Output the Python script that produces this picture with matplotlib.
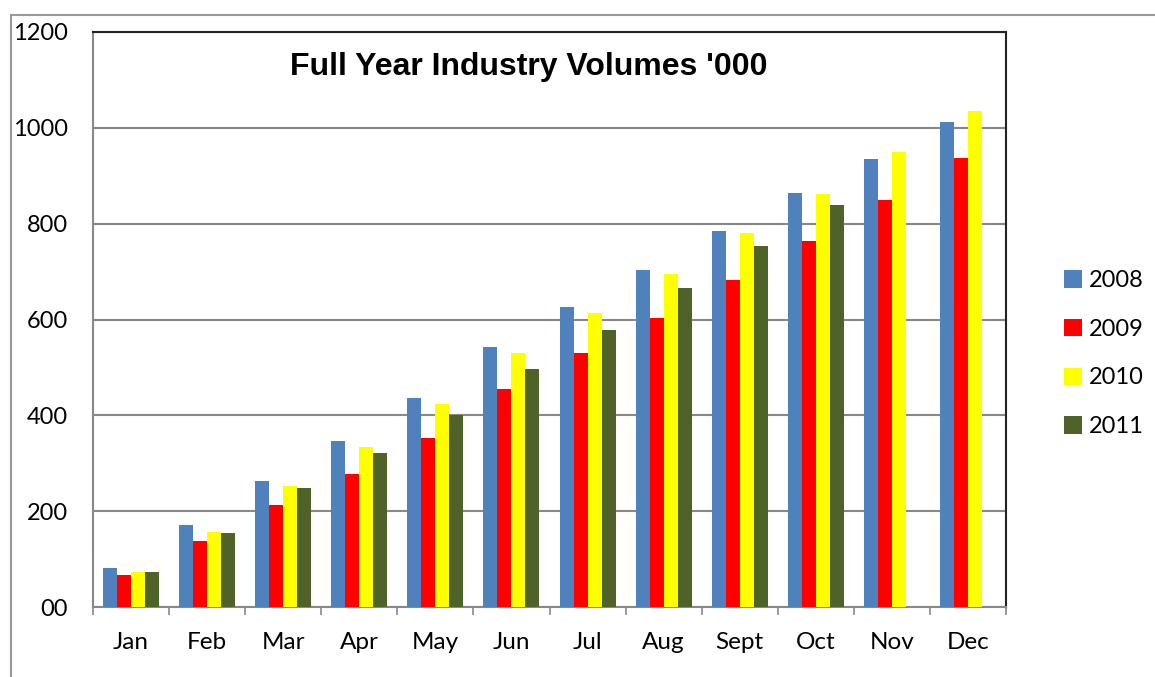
import numpy as np
import matplotlib
matplotlib.use("Agg")
import matplotlib.pyplot as plt
from matplotlib.lines import Line2D
from matplotlib.patches import Patch

months = ["Jan", "Feb", "Mar", "Apr", "May", "Jun", "Jul", "Aug", "Sept", "Oct", "Nov", "Dec"]
years = ["2008", "2009", "2010", "2011"]
vol_2008 = [82, 172, 263, 347, 436, 543, 627, 704, 785, 865, 936, 1013]
vol_2009 = [67, 137, 213, 277, 352, 455, 531, 604, 683, 763, 849, 938]
vol_2010 = [74, 157, 252, 333, 423, 530, 614, 696, 781, 862, 949, 1036]
vol_2011 = [74, 154, 249, 322, 400, 496, 578, 666, 753, 838, np.nan, np.nan]
colors = ["#4F81BD", "#FF0000", "#FFFF00", "#4F6228"]
y_ticks = [0, 200, 400, 600, 800, 1000, 1200]
y_labels = ["00", "200", "400", "600", "800", "1000", "1200"]


def main():
    plt.rcParams["font.family"] = ["Lato", "DejaVu Sans"]
    fig = plt.figure(figsize=(11.55, 6.77), dpi=100)
    ax = fig.add_axes([93 / 1155, 1 - 607 / 677, (1006 - 93) / 1155, (607 - 32) / 677])

    # outer chart frame
    fig.add_artist(Line2D([11 / 1155, 11 / 1155], [0, 1 - 15 / 677],
                          transform=fig.transFigure, color="#999999", lw=1.5))
    fig.add_artist(Line2D([11 / 1155, 1], [1 - 15 / 677, 1 - 15 / 677],
                          transform=fig.transFigure, color="#999999", lw=1.5))

    series = [vol_2008, vol_2009, vol_2010, vol_2011]
    x = np.arange(len(months))
    w = 0.184
    for i, vals in enumerate(series):
        ax.bar(x + (i - 1.5) * w, vals, width=w, color=colors[i], zorder=3)

    ax.set_xlim(-0.5, len(months) - 0.5)
    ax.set_ylim(0, 1200)
    ax.set_yticks(y_ticks)
    ax.set_yticklabels(y_labels)
    ax.set_xticks(x)
    ax.set_xticklabels(months)
    ax.set_xticks(np.arange(len(months) + 1) - 0.5, minor=True)
    ax.tick_params(axis="x", which="major", length=0, pad=18, labelsize=17.5)
    ax.tick_params(axis="x", which="minor", length=6, width=1.2, color="#888888")
    ax.tick_params(axis="y", length=0, pad=18, labelsize=17)
    ax.grid(axis="y", color="#888888", linewidth=1.5, zorder=0)
    ax.set_axisbelow(True)

    ax.spines["top"].set_color("#222222")
    ax.spines["right"].set_color("#222222")
    ax.spines["left"].set_color("#888888")
    ax.spines["bottom"].set_color("#888888")
    for s in ax.spines.values():
        s.set_linewidth(1.5)

    ax.text(0.4775, 0.94, "Full Year Industry Volumes '000", transform=ax.transAxes,
            ha="center", va="center", fontsize=23, fontweight="bold",
            family=["Liberation Sans", "DejaVu Sans"])

    handles = [Patch(facecolor=c) for c in colors]
    fig.legend(handles, years, loc="upper left", bbox_to_anchor=(1043 / 1155, 1 - 249 / 677),
               frameon=False, fontsize=17, handlelength=0.75, handleheight=0.75,
               handletextpad=0.3, labelspacing=1.17)

    fig.savefig("out.png", dpi=100)


if __name__ == '__main__':
    main()
